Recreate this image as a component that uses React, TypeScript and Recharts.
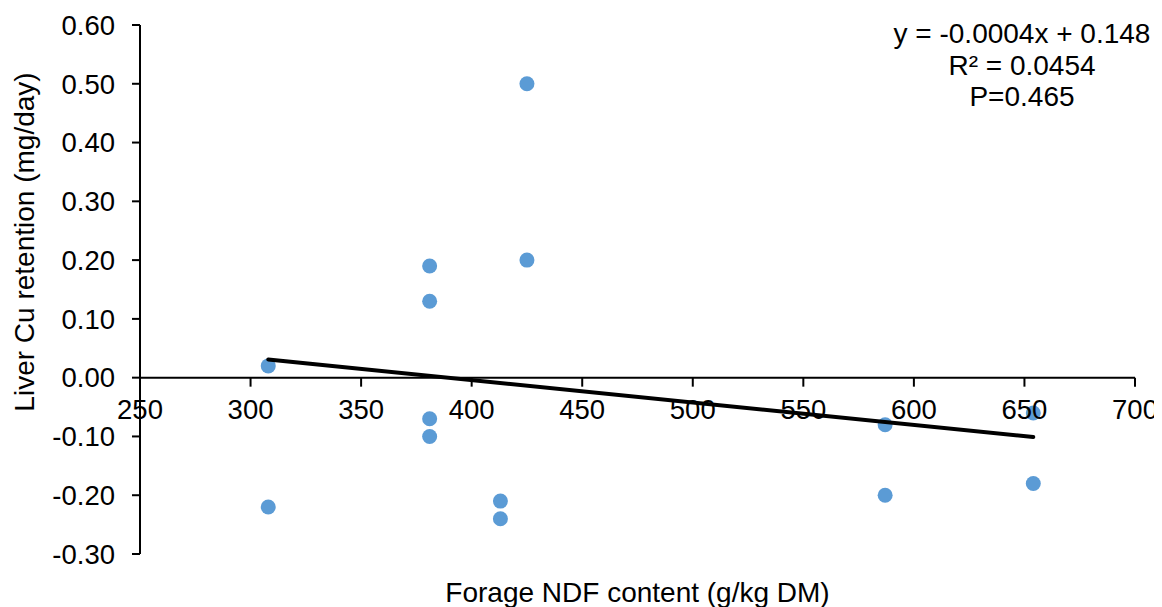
import React from 'react';
import { ScatterChart, Scatter, XAxis, YAxis, ReferenceLine, ReferenceDot } from 'recharts';

// Data
const ndfContent = [308, 308, 381, 381, 381, 381, 425, 425, 413, 413, 587, 587, 654, 654];
const cuRetention = [0.02, -0.22, 0.19, 0.13, -0.07, -0.10, 0.50, 0.20, -0.21, -0.24, -0.08, -0.20, -0.06, -0.18];
const trendX = [308, 654];
const trendY = [0.031, -0.101];
const xTicks = [250, 300, 350, 400, 450, 500, 550, 600, 650, 700];
const yTicks = [-0.3, -0.2, -0.1, 0, 0.1, 0.2, 0.3, 0.4, 0.5, 0.6];
const equationLines = ['y = -0.0004x + 0.148', 'R\u00B2 = 0.0454', 'P=0.465'];
const xTitle = 'Forage NDF content (g/kg DM)';
const yTitle = 'Liver Cu retention (mg/day)';

const points = ndfContent.map((x, i) => ({ x, y: cuRetention[i] }));
const trend = trendX.map((x, i) => ({ x, y: trendY[i] }));

const FONT = '"Liberation Sans", Arial, sans-serif';
const FS = 27.5;
const FS_T = 28;
const DOT = '#5B9BD5';

const W = 1154;
const H = 599;

const XTickMark = (p: any) => {
  const { cx, cy, label } = p;
  if (cx == null || cy == null) return <g />;
  return (
    <g>
      <line x1={cx} y1={cy} x2={cx} y2={cy + 9} stroke="#000" strokeWidth={2} />
      <text x={cx} y={cy + 41.6} textAnchor="middle" fontFamily={FONT} fontSize={FS} fill="#000">
        {label}
      </text>
    </g>
  );
};

const YTitle = (p: any) => {
  const vb = p.viewBox || { x: 0, y: 0, width: 0, height: 0 };
  const cx = vb.x + 16;
  const cy = vb.y + vb.height / 2 - 47.5;
  return (
    <text
      x={cx}
      y={cy + FS_T * 0.355}
      transform={`rotate(-90 ${cx} ${cy})`}
      textAnchor="middle"
      fontFamily={FONT}
      fontSize={FS_T}
      fill="#000"
    >
      {yTitle}
    </text>
  );
};

export default function App() {
  return (
    <div style={{ position: 'relative', width: W, height: H }}>
      <ScatterChart width={W} height={H} margin={{ top: 17, right: 27, left: 0, bottom: 0 }}>
        <XAxis
          type="number"
          dataKey="x"
          domain={[250, 700]}
          ticks={xTicks}
          tick={false}
          tickLine={false}
          axisLine={false}
          height={53}
          allowDataOverflow
          label={{ value: xTitle, position: 'insideBottom', offset: 5, fill: '#000', fontSize: FS_T, fontFamily: FONT }}
        />
        <YAxis
          type="number"
          dataKey="y"
          domain={[-0.3, 0.6]}
          ticks={yTicks}
          interval={0}
          width={132}
          allowDataOverflow
          tickFormatter={(v: number) => v.toFixed(2)}
          tick={{ fill: '#000', fontSize: FS, fontFamily: FONT }}
          tickSize={8}
          tickMargin={17}
          axisLine={{ stroke: '#000', strokeWidth: 2 }}
          tickLine={{ stroke: '#000', strokeWidth: 2 }}
          label={{ content: YTitle }}
        />
        <ReferenceLine y={0} stroke="#000" strokeWidth={2} ifOverflow="visible" />
        <Scatter
          data={points}
          isAnimationActive={false}
          shape={(p: any) => <circle cx={p.cx} cy={p.cy} r={7.5} fill={DOT} />}
        />
        <Scatter
          data={trend}
          isAnimationActive={false}
          line={{ stroke: '#000', strokeWidth: 4, strokeLinecap: 'round' }}
          lineType="joint"
          shape={() => <g />}
        />
        {xTicks.map((t) => (
          <ReferenceDot
            key={t}
            x={t}
            y={0}
            r={0}
            ifOverflow="visible"
            shape={(p: any) => <XTickMark {...p} label={String(t)} />}
          />
        ))}
      </ScatterChart>
      <svg
        width={W}
        height={H}
        style={{ position: 'absolute', left: 0, top: 0, pointerEvents: 'none' }}
      >
        {equationLines.map((line, i) => (
          <text
            key={line}
            x={1014}
            y={35 + i * 31.5}
            textAnchor="middle"
            fontFamily={FONT}
            fontSize={FS_T}
            fill="#000"
          >
            {line}
          </text>
        ))}
      </svg>
    </div>
  );
}
